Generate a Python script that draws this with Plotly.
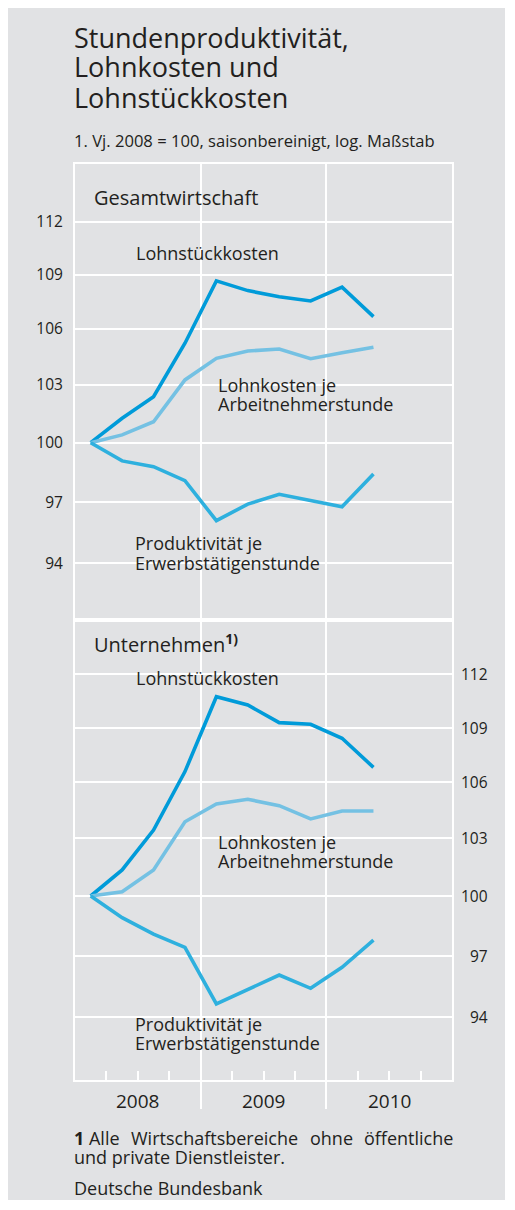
import math
import plotly.graph_objects as go

# ---------------- data ----------------
quarters = ["2008Q1", "2008Q2", "2008Q3", "2008Q4", "2009Q1",
            "2009Q2", "2009Q3", "2009Q4", "2010Q1", "2010Q2"]

# Gesamtwirtschaft
gw_lohnstueck = [100, 101.26, 102.39, 105.23, 108.65, 108.11, 107.77, 107.54, 108.30, 106.68]
gw_lohnkosten = [100, 100.40, 101.08, 103.27, 104.42, 104.81, 104.92, 104.40, 104.72, 105.01]
gw_produkt = [100, 99.07, 98.78, 98.07, 96.08, 96.90, 97.39, 97.10, 96.77, 98.41]

# Unternehmen
un_lohnstueck = [100, 101.34, 103.43, 106.57, 110.73, 110.26, 109.27, 109.18, 108.40, 106.80]
un_lohnkosten = [100, 100.22, 101.34, 103.87, 104.82, 105.07, 104.73, 104.02, 104.44, 104.44]
un_produkt = [100, 98.90, 98.07, 97.41, 94.63, 95.31, 96.04, 95.39, 96.42, 97.77]

y_ticks = [94, 97, 100, 103, 106, 109, 112]
years = [2008, 2009, 2010]

# ---------------- styling ----------------
OFF = 8                 # page margin of the html body
W, H = 497, 1192        # figure size (card 8..505 x 8..1200 on the page)
BG = "#e1e2e4"
TXT = "#231f20"
C_LSK = "#009bd9"
C_LK = "#74c1e3"
C_PR = "#2eb0de"
FONT = "Open Sans"


def px(x):
    return (x - OFF) / W


def py(y):
    return 1 - (y - OFF) / H


# numeric x positions of the quarters (mid-quarter)
xq = [int(q[:4]) + (int(q[-1]) - 0.5) / 4 for q in quarters]

fig = go.Figure()
series = [
    ("x", "y", gw_lohnstueck, C_LSK), ("x", "y", gw_lohnkosten, C_LK), ("x", "y", gw_produkt, C_PR),
    ("x2", "y2", un_lohnstueck, C_LSK), ("x2", "y2", un_lohnkosten, C_LK), ("x2", "y2", un_produkt, C_PR),
]
for xa, ya, vals, col in series:
    fig.add_trace(go.Scatter(x=xq, y=vals, xaxis=xa, yaxis=ya, mode="lines",
                             line=dict(color=col, width=3.6), hoverinfo="skip",
                             showlegend=False))

xdom = [px(75), px(452)]
top_dom = [py(620), py(164)]
bot_dom = [py(1080), py(620)]

minor_q = [y + k / 4 for y in years for k in (1, 2, 3)]

common_x = dict(range=[2008, 2011], domain=xdom, showline=True, mirror=True,
                linecolor="white", linewidth=2, showgrid=True, gridcolor="white",
                gridwidth=2, tickvals=[2009, 2010], zeroline=False, showticklabels=False)

fig.update_layout(
    width=W, height=H, margin=dict(l=0, r=0, t=0, b=0),
    paper_bgcolor=BG, plot_bgcolor=BG,
    font=dict(family=FONT, color=TXT),
    xaxis=dict(**common_x, anchor="y", ticks=""),
    xaxis2=dict(**common_x, anchor="y2", ticks="outside", ticklen=27,
                tickcolor="white", tickwidth=2,
                minor=dict(tickvals=minor_q, ticks="inside", ticklen=9,
                           tickcolor="white", tickwidth=2)),
    yaxis=dict(type="log", domain=top_dom, anchor="x",
               range=[math.log10(91.31), math.log10(115.36)],
               tickvals=y_ticks, ticktext=[str(v) for v in y_ticks],
               showgrid=True, gridcolor="white", gridwidth=2,
               showline=True, mirror=True, linecolor="white", linewidth=2,
               ticks="", ticklabelstandoff=7, zeroline=False,
               tickfont=dict(size=15.5, color=TXT)),
    yaxis2=dict(type="log", domain=bot_dom, anchor="x2",
                range=[math.log10(91.02), math.log10(115.16)],
                tickvals=y_ticks, showticklabels=False,
                showgrid=True, gridcolor="white", gridwidth=2,
                showline=True, mirror=True, linecolor="white", linewidth=2,
                ticks="", zeroline=False),
)

# background boxes behind the labels: hide the grid, sit below the lines
boxes = [
    (88, 262, 180, 211), (130, 284, 238, 268),
    (212, 345, 374, 394), (212, 400, 394, 418),
    (127, 272, 527, 551), (127, 330, 547, 580),
    (88, 252, 621, 657), (128, 285, 663, 693),
    (212, 345, 831, 851), (212, 400, 851, 875),
    (128, 273, 1008, 1034), (128, 330, 1027, 1060),
]
for x0, x1, y0, y1 in boxes:
    fig.add_shape(type="rect", xref="paper", yref="paper", x0=px(x0), x1=px(x1),
                  y0=py(y1), y1=py(y0), fillcolor=BG, line=dict(width=0), layer="between")

ann = []


def text(x, y, s, size, anchor="left"):
    ann.append(dict(xref="paper", yref="paper", x=px(x), y=py(y), text=s,
                    showarrow=False, xanchor=anchor, yanchor="middle",
                    font=dict(size=size, color=TXT, family=FONT), borderpad=0))


# title
text(73, 37, "Stundenproduktivität,", 27)
text(73, 67, "Lohnkosten und", 27)
text(73, 97.5, "Lohnstückkosten", 27)
text(73, 140, "1. Vj. 2008 = 100, saisonbereinigt, log. Maßstab", 16.6)

# panel headers and series labels
LS = 18
text(93, 197, "Gesamtwirtschaft", 20)
text(135, 253, "Lohnstückkosten", LS)
text(217, 385, "Lohnkosten je", LS)
text(217, 404, "Arbeitnehmerstunde", LS)
text(134, 543, "Produktivität je", LS)
text(134, 563, "Erwerbstätigenstunde", LS)

text(93, 643, "Unternehmen<sup><b>1)</b></sup>", 20)
text(135, 678, "Lohnstückkosten", LS)
text(217, 842, "Lohnkosten je", LS)
text(217, 861, "Arbeitnehmerstunde", LS)
text(134, 1024, "Produktivität je", LS)
text(134, 1043, "Erwerbstätigenstunde", LS)

# right-hand tick labels of the lower panel (on the y2 scale)
for v in y_ticks:
    ann.append(dict(xref="paper", yref="y2", x=px(490), y=math.log10(v), text=str(v),
                    showarrow=False, xanchor="right", yanchor="middle",
                    font=dict(size=15.5, color=TXT, family=FONT)))

# year labels
for yr in years:
    ann.append(dict(xref="x2", yref="paper", x=yr + 0.5, y=py(1101), text=str(yr),
                    showarrow=False, xanchor="center", yanchor="middle",
                    font=dict(size=19, color=TXT, family=FONT)))

# footnote (justified first line)
FN = 18
text(73, 1138, "<b>1</b> Alle", FN)
text(130, 1138, "Wirtschaftsbereiche", FN)
text(309, 1138, "ohne", FN)
text(454, 1138, "öffentliche", FN, anchor="right")
text(73, 1157, "und private Dienstleister.", FN)
text(73, 1188, "Deutsche Bundesbank", FN)

fig.update_layout(annotations=ann)
fig.write_html("out.html")
